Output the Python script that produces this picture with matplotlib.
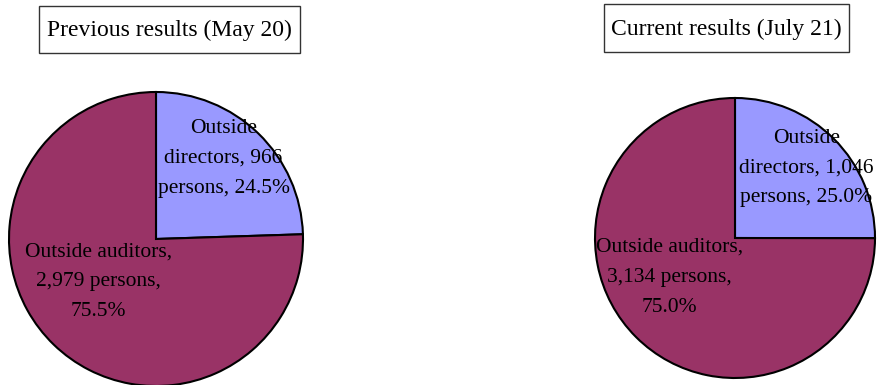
import matplotlib.pyplot as plt
from matplotlib.patches import Rectangle

plt.rcParams['font.family'] = ['Liberation Serif', 'DejaVu Serif']

categories = ['Outside directors', 'Outside auditors']
titles = ['Previous results (May 20)', 'Current results (July 21)']
persons_prev = [966, 2979]
persons_curr = [1046, 3134]
colors = ['#9999FF', '#993366']

W, H = 884, 385
fig = plt.figure(figsize=(W / 100, H / 100), dpi=100)

# pie centre / radius in pixels, title box (x0, y0, x1, y1) in pixels,
# label offsets in radius units
layouts = [
    dict(cx=156, cy=239, r=147, box=(39, 6, 300, 53),
         lab=[(0.46, 0.55), (-0.39, -0.29)]),
    dict(cx=735, cy=238, r=140, box=(604, 4, 849, 52),
         lab=[(0.51, 0.50), (-0.47, -0.28)]),
]


def label_text(name, n, pct):
    if name == 'Outside directors':
        return f"Outside\ndirectors, {n:,}\npersons, {pct:.1f}%"
    return f"Outside auditors,\n{n:,} persons,\n{pct:.1f}%"


for values, title, lo in zip([persons_prev, persons_curr], titles, layouts):
    r = lo['r']
    ax = fig.add_axes([(lo['cx'] - r) / W, (H - lo['cy'] - r) / H,
                       2 * r / W, 2 * r / H])
    wedges, _ = ax.pie(values, colors=colors, startangle=90, counterclock=False,
                       radius=1, wedgeprops=dict(edgecolor='black', linewidth=1.5))
    for w in wedges:
        w.set_clip_on(False)
    ax.set_xlim(-1, 1)
    ax.set_ylim(-1, 1)
    ax.axis('off')

    total = sum(values)
    for name, n, (dx, dy) in zip(categories, values, lo['lab']):
        ax.text(dx, dy, label_text(name, n, 100 * n / total), ha='center', va='center',
                fontsize=15.5, linespacing=1.78, color='black', clip_on=False)

    # boxed title
    x0, y0, x1, y1 = lo['box']
    fig.patches.append(Rectangle((x0 / W, 1 - y1 / H), (x1 - x0) / W, (y1 - y0) / H,
                                 transform=fig.transFigure, facecolor='white',
                                 edgecolor='#333333', linewidth=1))
    fig.text((x0 + x1) / 2 / W, 1 - ((y0 + y1) / 2 + 1) / H, title,
             ha='center', va='center', fontsize=17)

fig.savefig('out.png', dpi=100)
